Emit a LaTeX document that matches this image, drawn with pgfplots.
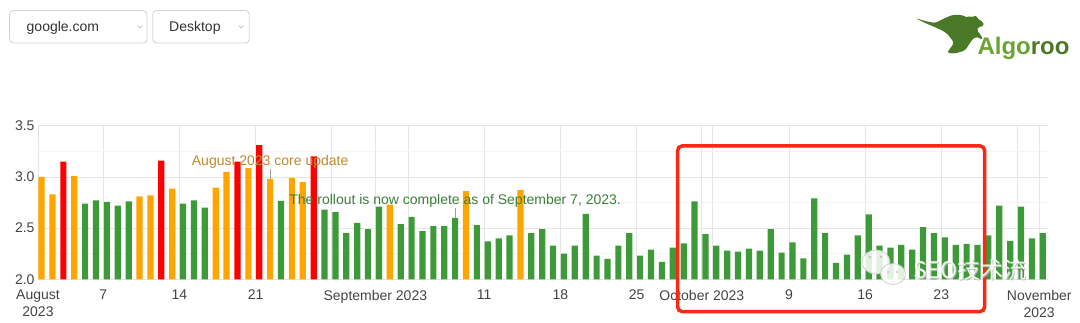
\documentclass[border=0pt]{standalone}
\usepackage{fontspec}
\setmainfont{Liberation Sans}
\newfontfamily\cjk{Noto Sans CJK SC}
\usepackage{pgfplots}
\usepackage{pgfplotstable}
\pgfplotsset{compat=1.18}
\definecolor{barG}{RGB}{62,154,56}
\definecolor{barO}{RGB}{255,165,0}
\definecolor{barR}{RGB}{255,0,0}
\definecolor{annO}{RGB}{188,138,45}
\definecolor{annG}{RGB}{58,128,58}
\definecolor{boxR}{RGB}{250,40,20}
\definecolor{tickC}{RGB}{68,68,68}
\definecolor{logoD}{RGB}{74,122,40}
\definecolor{logoL}{RGB}{104,165,50}
\newcommand\tickfont{\fontsize{14}{16.7}\selectfont}

% x = day index since 1 Aug 2023 (+0.33 offset of the bar), y = value
\pgfplotstableread{
x y
0.33 3.00
1.33 2.83
3.33 3.01
9.33 2.81
10.33 2.82
12.33 2.885
16.33 2.895
17.33 3.05
19.33 3.085
21.33 2.98
23.33 2.99
24.33 2.95
32.33 2.73
39.33 2.86
44.33 2.87
}\orangedata

\pgfplotstableread{
x y
2.33 3.15
11.33 3.16
18.33 3.15
20.33 3.31
25.33 3.20
}\reddata

\pgfplotstableread{
x y
4.33 2.74
5.33 2.77
6.33 2.755
7.33 2.72
8.33 2.76
13.33 2.74
14.33 2.77
15.33 2.70
22.33 2.765
26.33 2.68
27.33 2.655
28.33 2.45
29.33 2.55
30.33 2.49
31.33 2.71
33.33 2.54
34.33 2.61
35.33 2.47
36.33 2.52
37.33 2.52
38.33 2.60
40.33 2.53
41.33 2.37
42.33 2.40
43.33 2.43
45.33 2.45
46.33 2.49
47.33 2.33
48.33 2.25
49.33 2.33
50.33 2.64
51.33 2.23
52.33 2.20
53.33 2.33
54.33 2.45
55.33 2.23
56.33 2.29
57.33 2.17
58.33 2.31
59.33 2.35
60.33 2.76
61.33 2.44
62.33 2.33
63.33 2.28
64.33 2.27
65.33 2.30
66.33 2.28
67.33 2.49
68.33 2.26
69.33 2.36
70.33 2.205
71.33 2.79
72.33 2.45
73.33 2.16
74.33 2.24
75.33 2.43
76.33 2.635
77.33 2.33
78.33 2.31
79.33 2.335
80.33 2.29
81.33 2.51
82.33 2.45
83.33 2.41
84.33 2.335
85.33 2.345
86.33 2.335
87.33 2.43
88.33 2.72
89.33 2.375
90.33 2.71
91.33 2.40
92.33 2.45
}\greendata

\begin{document}
\begin{tikzpicture}
\path[use as bounding box] (0,0) rectangle (1080pt,322pt);
\begin{axis}[
  at={(38pt,42.7pt)}, anchor=south west,
  scale only axis, width=1010.3pt, height=153.6pt,
  xmin=0, xmax=92.83, ymin=2, ymax=3.5,
  axis line style={draw=none},
  major tick length=0pt, minor tick length=0pt,
  ytick={2,2.5,3,3.5},
  minor ytick={2.25,2.75,3.25},
  yticklabel style={/pgf/number format/fixed, /pgf/number format/fixed zerofill, /pgf/number format/precision=1, /pgf/number format/assume math mode=true, anchor=east},
  xtick={6,13,20,27,34,41,48,55,62,69,76,83,90},
  xticklabels={7,14,21,{},{},11,18,25,{},9,16,23,{}},
  extra x ticks={0,31,61,92},
  extra x tick labels={August\\2023,September 2023,October 2023,November\\2023},
  extra x tick style={grid style={color=gray!32, line width=0.8pt}},
  extra y ticks={2},
  extra y tick labels={},
  extra y tick style={grid style={color=gray!65, line width=1pt}},
  xmajorgrids, ymajorgrids, yminorgrids,
  major grid style={color=gray!20, line width=0.8pt},
  minor grid style={color=gray!9, line width=0.8pt},
  tick label style={font=\tickfont, text=tickC},
  xticklabel style={align=center, anchor=north, inner sep=0pt, yshift=-10.7pt},
]
\addplot[ybar, bar width=0.57, bar shift=0pt, fill=barO, draw=none] table[x=x,y=y]{\orangedata};
\addplot[ybar, bar width=0.57, bar shift=0pt, fill=barR, draw=none] table[x=x,y=y]{\reddata};
\addplot[ybar, bar width=0.57, bar shift=0pt, fill=barG, draw=none] table[x=x,y=y]{\greendata};
\draw[gray!75, line width=0.8pt] (axis cs:21.33,2.98) -- ([yshift=10pt]axis cs:21.33,2.98);
\node[anchor=base, text=annO, font=\tickfont, inner sep=0pt] at ([yshift=13pt]axis cs:21.33,2.98) {August 2023 core update};
\draw[gray!75, line width=0.8pt] (axis cs:38.33,2.60) -- ([yshift=10pt]axis cs:38.33,2.60);
\node[anchor=base, text=annG, font=\tickfont, inner sep=0pt] at ([yshift=13pt]axis cs:38.33,2.60) {The rollout is now complete as of September 7, 2023.};
\end{axis}

\begin{scope}[x=1pt, y=-1pt, shift={(0,-322)}]
  % dropdowns
  \draw[gray!35, line width=0.8pt, rounded corners=4pt] (9.5,10.5) rectangle (147,43);
  \node[anchor=base west, inner sep=0pt, text=black!80, font=\tickfont] at (26.5,31.7) {google.com};
  \draw[gray!60, line width=0.6pt] (137.5,25.5) -- (140,28) -- (142.5,25.5);
  \draw[gray!35, line width=0.8pt, rounded corners=4pt] (152.7,10.5) rectangle (249.3,43);
  \node[anchor=base west, inner sep=0pt, text=black!80, font=\tickfont] at (169,31.7) {Desktop};
  \draw[gray!60, line width=0.6pt] (238.5,25.5) -- (241,28) -- (243.5,25.5);
  % logo
  \fill[logoD, rounded corners=1.8pt] (915,18) -- (925,23) -- (937,28) -- (945,32) -- (950,37) -- (954,43) -- (949,50) -- (947,53) -- (955,53.5) -- (965,50.5) -- (968,46) -- (972,40) -- (975,37) -- (980,38) -- (983,40) -- (981,35) -- (977,31) -- (978,27) -- (984,26) -- (983,22) -- (978,19) -- (975,14.5) -- (973,18) -- (969,15.5) -- (968,18) -- (962,15) -- (952,15) -- (943,19) -- (935,23) -- (925,21) -- cycle;
  \node[anchor=base west, inner sep=0pt, font=\bfseries\fontsize{24}{24}\selectfont] at (977.3,54.3) {\textcolor{logoL}{Algo}\textcolor{logoD}{roo}};
  % red highlight box
  \draw[boxR, line width=3.5pt, rounded corners=5pt] (677.5,145.8) rectangle (984.7,311.7);
  % watermark
  \begin{scope}[opacity=0.85]
    \draw[gray!45, fill=white, line width=0.8pt] (876,262) ellipse (14 and 12);
    \draw[gray!45, fill=white, line width=0.8pt] (893,274) ellipse (12.5 and 10.5);
    \fill[gray!55] (870,257) circle (1.3) (881,257) circle (1.3) (888,272) circle (1.1) (897,272) circle (1.1);
    \node[anchor=base west, inner sep=0pt, text=gray!50, font=\cjk\fontsize{23}{23}\selectfont] at (913.8,279) {SEO技术流};
    \node[anchor=base west, inner sep=0pt, text=white, font=\cjk\fontsize{23}{23}\selectfont] at (913,278.2) {SEO技术流};
  \end{scope}
\end{scope}
\end{tikzpicture}
\end{document}
